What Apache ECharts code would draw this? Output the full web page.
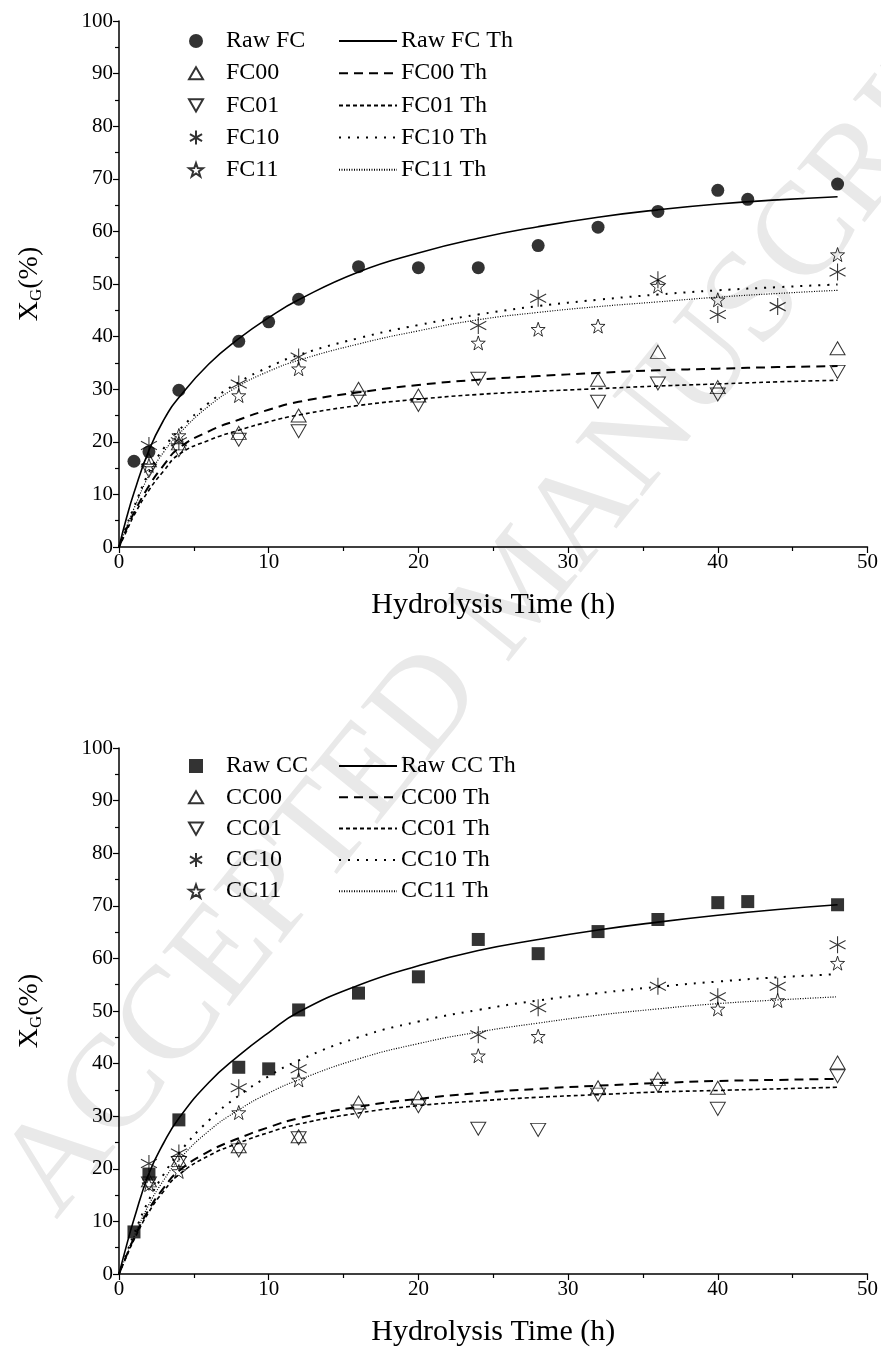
<!DOCTYPE html>
<html>
<head>
<meta charset="utf-8">
<script src="https://cdn.jsdelivr.net/npm/echarts@6/dist/echarts.min.js"></script>
<style>
html,body{margin:0;padding:0;background:#fff;}
#main{width:881px;height:1359px;}
</style>
</head>
<body>
<div id="main"></div>
<script>
// ---------- data ----------
const thTime = [0, 0.5, 1, 2, 3, 4, 6, 8, 10, 12, 16, 20, 24, 28, 32, 36, 40, 44, 48];

// Top panel: FC
const rawFC_t = [1, 2, 4, 8, 10, 12, 16, 20, 24, 28, 32, 36, 40, 42, 48];
const rawFC_y = [16.3, 18.1, 29.8, 39.1, 42.8, 47.1, 53.3, 53.1, 53.1, 57.3, 60.8, 63.8, 67.8, 66.1, 69.0];
const fc00_t = [2, 4, 8, 12, 16, 20, 32, 36, 40, 48];
const fc00_y = [16.5, 19.7, 21.7, 25.0, 30.1, 28.8, 31.8, 37.1, 30.4, 37.8];
const fc01_t = [2, 4, 8, 12, 16, 20, 24, 32, 36, 40, 48];
const fc01_y = [14.5, 18.4, 20.4, 22.0, 28.4, 27.0, 32.0, 27.6, 31.1, 29.0, 33.3];
const fc10_t = [2, 4, 8, 12, 24, 28, 36, 40, 44, 48];
const fc10_y = [19.3, 20.0, 31.0, 36.1, 42.1, 47.3, 50.8, 44.2, 45.7, 52.3];
const fc11_t = [2, 4, 8, 12, 24, 28, 32, 36, 40, 48];
const fc11_y = [15.5, 21.2, 28.8, 33.9, 38.8, 41.4, 42.0, 49.6, 47.0, 55.6];

const rawFC_th = [0, 5.5, 10.3, 18.4, 24.2, 28.4, 34.8, 39.6, 43.6, 47.0, 52.3, 55.9, 58.7, 60.9, 62.7, 64.1, 65.2, 66.0, 66.6];
const fc00_th  = [0, 3.4, 6.5, 11.6, 15.6, 18.8, 22.0, 24.2, 26.1, 27.6, 29.4, 30.8, 31.8, 32.5, 33.1, 33.6, 33.9, 34.2, 34.4];
const fc01_th  = [0, 3.0, 6.0, 10.8, 14.5, 17.6, 20.3, 22.2, 23.8, 25.1, 26.9, 28.1, 29.0, 29.6, 30.1, 30.6, 31.0, 31.4, 31.7];
const fc10_th  = [0, 4.0, 7.6, 14.2, 18.8, 22.2, 27.4, 31.3, 34.2, 36.5, 39.7, 42.2, 44.2, 45.8, 47.0, 48.0, 48.8, 49.4, 49.9];
const fc11_th  = [0, 3.8, 7.3, 13.6, 18.1, 21.5, 26.8, 30.6, 33.4, 35.5, 38.6, 41.1, 43.2, 44.6, 45.7, 46.6, 47.5, 48.2, 48.8];

// Bottom panel: CC
const rawCC_t = [1, 2, 4, 8, 10, 12, 16, 20, 24, 28, 32, 36, 40, 42, 48];
const rawCC_y = [8.0, 19.0, 29.3, 39.3, 39.0, 50.2, 53.4, 56.5, 63.6, 60.9, 65.1, 67.4, 70.6, 70.8, 70.2];
const cc00_t = [2, 4, 8, 12, 16, 20, 32, 36, 40, 48];
const cc00_y = [17.8, 21.7, 24.3, 26.2, 32.6, 33.5, 35.5, 37.1, 35.4, 40.2];
const cc01_t = [2, 4, 8, 12, 16, 20, 24, 28, 32, 36, 40, 48];
const cc01_y = [17.2, 21.1, 23.5, 25.8, 30.9, 31.9, 27.6, 27.4, 34.1, 35.8, 31.4, 37.6];
const cc10_t = [2, 4, 8, 12, 24, 28, 36, 40, 44, 48];
const cc10_y = [21.0, 23.0, 35.4, 39.0, 45.5, 50.6, 54.7, 52.7, 54.7, 62.6];
const cc11_t = [2, 4, 8, 12, 24, 28, 40, 44, 48];
const cc11_y = [17.0, 19.5, 30.7, 36.9, 41.5, 45.2, 50.4, 52.0, 59.1];

const rawCC_th = [0, 5.4, 10.4, 19.1, 25.0, 29.6, 36.4, 41.5, 45.9, 49.8, 54.9, 58.6, 61.5, 63.6, 65.4, 66.9, 68.2, 69.3, 70.2];
const cc00_th  = [0, 3.5, 6.8, 12.3, 16.4, 19.6, 23.3, 25.8, 27.9, 29.6, 31.8, 33.3, 34.4, 35.2, 35.8, 36.3, 36.7, 36.9, 37.1];
const cc01_th  = [0, 3.3, 6.5, 11.8, 15.8, 18.9, 22.5, 24.9, 26.9, 28.5, 30.6, 32.0, 32.9, 33.6, 34.1, 34.6, 34.9, 35.2, 35.5];
const cc10_th  = [0, 3.9, 7.6, 14.1, 19.0, 23.0, 29.2, 33.9, 37.6, 40.6, 45.0, 48.0, 50.2, 52.0, 53.4, 54.6, 55.6, 56.4, 57.0];
const cc11_th  = [0, 3.6, 7.1, 13.2, 17.9, 21.7, 27.2, 31.2, 34.4, 36.9, 40.9, 43.8, 46.0, 47.7, 49.2, 50.4, 51.4, 52.1, 52.7];

const xTicks = [0, 10, 20, 30, 40, 50];
const yTicks = [0, 10, 20, 30, 40, 50, 60, 70, 80, 90, 100];

// ---------- styling ----------
const FONT = 'Liberation Serif';
const pair = (ts, ys) => ts.map((t, i) => [t, ys[i]]);

const SYM = {
  circle: {symbol: 'circle', symbolSize: 13, itemStyle: {color: '#000'}},
  square: {symbol: 'rect', symbolSize: 13, itemStyle: {color: '#000'}},
  up: {symbol: 'path://M10,0L20,17.3L0,17.3Z', symbolSize: [15, 13],
       itemStyle: {color: 'transparent', borderColor: '#000', borderWidth: 1}},
  down: {symbol: 'path://M0,0L20,0L10,17.3Z', symbolSize: [15, 13],
       itemStyle: {color: 'transparent', borderColor: '#000', borderWidth: 1}},
  ast: {symbol: 'path://M0,-10L0,10M-8.66,-5L8.66,5M-8.66,5L8.66,-5', symbolSize: [16, 17],
       itemStyle: {color: 'transparent', borderColor: '#000', borderWidth: 1.1}},
  star: {symbol: 'path://M0,-10L2.35,-3.24L9.51,-3.09L3.8,1.24L5.88,8.09L0,4L-5.88,8.09L-3.8,1.24L-9.51,-3.09L-2.35,-3.24Z',
       symbolSize: 14, itemStyle: {color: 'transparent', borderColor: '#000', borderWidth: 1}}
};
const LINES = {
  solid: {type: 'solid', width: 1.6},
  dash: {type: [9, 6], width: 2},
  sdash: {type: [4, 3], width: 1.6},
  dot: {type: [2, 7], width: 2},
  fdot: {type: [1, 1.5], width: 1.2}
};

function scatter(name, ts, ys, sym, gi) {
  return Object.assign({
    name: name, type: 'scatter', xAxisIndex: gi, yAxisIndex: gi,
    data: pair(ts, ys), z: 4, silent: true
  }, JSON.parse(JSON.stringify(SYM[sym])));
}
function curve(name, ys, ls, gi) {
  return {
    name: name, type: 'line', xAxisIndex: gi, yAxisIndex: gi,
    data: pair(thTime, ys), smooth: 0.5, symbol: 'none',
    lineStyle: Object.assign({color: '#000'}, LINES[ls]), itemStyle: {color: '#000'}, z: 3, silent: true
  };
}

const grids = [
  {left: 119, right: 12, top: 21, height: 526},
  {left: 119, right: 12, top: 748, height: 526}
];

function xAx(gi) {
  return {
    type: 'value', gridIndex: gi, min: 0, max: 50, interval: 10,
    name: 'Hydrolysis Time (h)', nameLocation: 'middle', nameGap: 43,
    nameTextStyle: {fontFamily: FONT, fontSize: 30, color: '#000'},
    axisLine: {show: true, onZero: false, lineStyle: {color: '#000', width: 1.5}},
    axisTick: {show: true, inside: false, length: 6, lineStyle: {color: '#000', width: 1.2}},
    minorTick: {show: true, splitNumber: 2, length: 4, lineStyle: {color: '#000', width: 1.2}},
    axisLabel: {fontFamily: FONT, fontSize: 21, color: '#000', margin: 5,
      formatter: v => xTicks.includes(v) ? String(v) : ''},
    splitLine: {show: false}
  };
}
function yAx(gi) {
  return {
    type: 'value', gridIndex: gi, min: 0, max: 100, interval: 10,
    name: '{x|X}{s|G}{x|(%)}', nameLocation: 'middle', nameGap: 74, nameRotate: 90,
    nameTextStyle: {fontFamily: FONT, fontSize: 28, color: '#000',
      rich: {x: {fontFamily: FONT, fontSize: 28, color: '#000'},
             s: {fontFamily: FONT, fontSize: 17, color: '#000', padding: [14, 0, 0, 0]}}},
    axisLine: {show: true, onZero: false, lineStyle: {color: '#000', width: 1.5}},
    axisTick: {show: true, inside: false, length: 6, lineStyle: {color: '#000', width: 1.2}},
    minorTick: {show: true, splitNumber: 2, length: 4, lineStyle: {color: '#000', width: 1.2}},
    axisLabel: {fontFamily: FONT, fontSize: 21, color: '#000', margin: 6,
      formatter: v => yTicks.includes(v) ? String(v) : ''},
    splitLine: {show: false}
  };
}

const series = [
  scatter('Raw FC', rawFC_t, rawFC_y, 'circle', 0),
  scatter('FC00', fc00_t, fc00_y, 'up', 0),
  scatter('FC01', fc01_t, fc01_y, 'down', 0),
  scatter('FC10', fc10_t, fc10_y, 'ast', 0),
  scatter('FC11', fc11_t, fc11_y, 'star', 0),
  curve('Raw FC Th', rawFC_th, 'solid', 0),
  curve('FC00 Th', fc00_th, 'dash', 0),
  curve('FC01 Th', fc01_th, 'sdash', 0),
  curve('FC10 Th', fc10_th, 'dot', 0),
  curve('FC11 Th', fc11_th, 'fdot', 0),
  scatter('Raw CC', rawCC_t, rawCC_y, 'square', 1),
  scatter('CC00', cc00_t, cc00_y, 'up', 1),
  scatter('CC01', cc01_t, cc01_y, 'down', 1),
  scatter('CC10', cc10_t, cc10_y, 'ast', 1),
  scatter('CC11', cc11_t, cc11_y, 'star', 1),
  curve('Raw CC Th', rawCC_th, 'solid', 1),
  curve('CC00 Th', cc00_th, 'dash', 1),
  curve('CC01 Th', cc01_th, 'sdash', 1),
  curve('CC10 Th', cc10_th, 'dot', 1),
  curve('CC11 Th', cc11_th, 'fdot', 1)
];

function legend(names, left, top, gap, isLine) {
  const l = {
    data: names, orient: 'vertical', left: left, top: top, itemGap: gap,
    itemWidth: isLine ? 58 : 14, itemHeight: 14,
    selectedMode: false,
    textStyle: {fontFamily: FONT, fontSize: 24, color: '#000', lineHeight: 24,
      padding: isLine ? [0, 0, 0, -1] : [0, 0, 0, 18]}
  };
  if (isLine) l.itemStyle = {opacity: 0};
  return l;
}

const option = {
  animation: false,
  backgroundColor: '#fff',
  graphic: [{
    type: 'text', x: 522, y: 590, rotation: 51 * Math.PI / 180, z: -10, silent: true,
    style: {text: 'ACCEPTED MANUSCRIPT', font: '132px "Liberation Serif"', fill: '#e9e9e9',
      textAlign: 'center', textVerticalAlign: 'middle'}
  }],
  grid: grids,
  xAxis: [xAx(0), xAx(1)],
  yAxis: [yAx(0), yAx(1)],
  legend: [
    legend(['Raw FC', 'FC00', 'FC01', 'FC10', 'FC11'], 183, 24, 8.2, false),
    legend(['Raw FC Th', 'FC00 Th', 'FC01 Th', 'FC10 Th', 'FC11 Th'], 333, 24, 8.2, true),
    legend(['Raw CC', 'CC00', 'CC01', 'CC10', 'CC11'], 183, 749, 7.3, false),
    legend(['Raw CC Th', 'CC00 Th', 'CC01 Th', 'CC10 Th', 'CC11 Th'], 333, 749, 7.3, true)
  ],
  series: series
};

const chart = echarts.init(document.getElementById('main'), null, {renderer: 'canvas'});
chart.setOption(option);
</script>
</body>
</html>
